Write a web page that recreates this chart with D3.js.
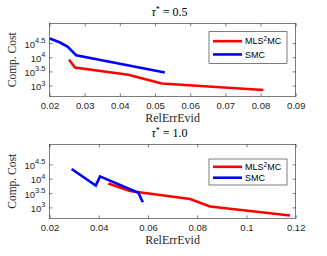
<!DOCTYPE html>
<html><head><meta charset="utf-8">
<script src="https://cdn.jsdelivr.net/npm/d3@7"></script>
<style>body{margin:0;background:#fff;} svg{display:block;}</style>
</head><body>
<svg id="c" width="327" height="256"></svg>
<script>
// Panel 1: tau* = 0.5
const p1_smc_x = [0.0201, 0.0230, 0.0251, 0.0276, 0.0528];
const p1_smc_y = [45709, 33113, 23988, 11749, 2884];
const p1_mls_x = [0.02555, 0.02725, 0.0424, 0.0519, 0.0808];
const p1_mls_y = [8128, 4365, 2399, 1175, 692];
const p1_xticks = [0.02, 0.03, 0.04, 0.05, 0.06, 0.07, 0.08, 0.09];
// Panel 2: tau* = 1.0
const p2_smc_x = [0.0290, 0.0388, 0.0405, 0.0561, 0.0579];
const p2_smc_y = [21878, 5754, 12023, 3236, 1514];
const p2_mls_x = [0.0439, 0.0527, 0.0771, 0.0852, 0.1177];
const p2_mls_y = [6761, 3715, 1950, 1072, 525];
const p2_xticks = [0.02, 0.04, 0.06, 0.08, 0.1, 0.12];
const yTickExps = ["3", "3.5", "4", "4.5"];
const seriesNames = ["MLS²MC", "SMC"];
const colors = ["#ff0000", "#0000ff"];

const svg = d3.select("#c");
const axisColor = "#262626";
const sans = "'Liberation Sans', Arial, sans-serif";
const serif = "'Liberation Serif', 'Times New Roman', serif";

function panel(cfg) {
  const {left, right, top, bottom, xdom, xticks, tau, mls, smc, leg} = cfg;
  const x = d3.scaleLinear().domain(xdom).range([left, right]);
  const y = d3.scaleLog().domain([Math.pow(10, 2.62), Math.pow(10, 5.2)]).range([bottom, top]);
  const g = svg.append("g");
  const yt = yTickExps.map(e => Math.pow(10, +e));

  const ax = g.append("g").attr("transform", `translate(0,${bottom})`)
    .call(d3.axisBottom(x).tickValues(xticks).tickSize(-3).tickPadding(6).tickFormat(d => String(+d.toFixed(2))));
  const axT = g.append("g").attr("transform", `translate(0,${top})`)
    .call(d3.axisTop(x).tickValues(xticks).tickSize(-3).tickFormat(""));
  const ayL = g.append("g").attr("transform", `translate(${left},0)`)
    .call(d3.axisLeft(y).tickValues(yt).tickSize(-3).tickFormat(""));
  const ayR = g.append("g").attr("transform", `translate(${right},0)`)
    .call(d3.axisRight(y).tickValues(yt).tickSize(-3).tickFormat(""));
  [ax, axT, ayL, ayR].forEach(a => {
    a.select(".domain").remove();
    a.selectAll("line").attr("stroke", axisColor).attr("stroke-width", 0.6);
    a.selectAll("text").attr("fill", axisColor).attr("font-family", sans).attr("font-size", 9.5);
  });
  g.append("rect").attr("x", left).attr("y", top).attr("width", right - left).attr("height", bottom - top)
    .attr("fill", "none").attr("stroke", axisColor).attr("stroke-width", 0.6);

  yTickExps.forEach(e => {
    const t = g.append("text").attr("x", left - 4).attr("y", y(Math.pow(10, +e)) + 4.5)
      .attr("text-anchor", "end").attr("font-family", sans).attr("font-size", 9.5).attr("fill", axisColor);
    t.append("tspan").text("10");
    t.append("tspan").attr("dy", -4.5).attr("font-size", 7.5).text(e);
  });

  const line = d3.line().x(d => x(d[0])).y(d => y(d[1]));
  [mls, smc].forEach((s, i) => {
    g.append("path").datum(d3.zip(s[0], s[1])).attr("d", line)
      .attr("fill", "none").attr("stroke", colors[i]).attr("stroke-width", 2.6).attr("stroke-linejoin", "miter");
  });

  const tt = g.append("text").attr("x", (left + right) / 2 - 3).attr("y", top - 7)
    .attr("text-anchor", "middle").attr("font-family", serif).attr("font-size", 12).attr("fill", "#000");
  tt.append("tspan").attr("font-style", "italic").text("τ");
  tt.append("tspan").attr("dy", -4.5).attr("font-size", 8).text("*");
  tt.append("tspan").attr("dy", 4.5).text(" = " + tau);

  g.append("text").attr("x", (left + right) / 2).attr("y", bottom + 25.5)
    .attr("text-anchor", "middle").attr("font-family", serif).attr("font-size", 12).attr("fill", axisColor).text("RelErrEvid");
  g.append("text").attr("transform", `translate(16,${(top + bottom) / 2}) rotate(-90)`)
    .attr("text-anchor", "middle").attr("font-family", serif).attr("font-size", 11.5).attr("fill", axisColor).text("Comp. Cost");

  g.append("rect").attr("x", leg.x).attr("y", leg.y).attr("width", leg.w).attr("height", leg.h)
    .attr("fill", "#fff").attr("stroke", axisColor).attr("stroke-width", 0.6);
  seriesNames.forEach((n, i) => {
    const yy = leg.y + leg.h * (i === 0 ? 0.3 : 0.72);
    g.append("line").attr("x1", leg.x + 4).attr("x2", leg.x + 33).attr("y1", yy).attr("y2", yy)
      .attr("stroke", colors[i]).attr("stroke-width", 2.6);
    const t = g.append("text").attr("x", leg.x + 36).attr("y", yy + 3.3).attr("font-family", sans)
      .attr("font-size", 9).attr("fill", "#000");
    if (i === 0) {
      t.append("tspan").text("MLS");
      t.append("tspan").attr("dy", -3.5).attr("font-size", 6.5).text("2");
      t.append("tspan").attr("dy", 3.5).text("MC");
    } else t.text(n);
  });
}

panel({left: 49.5, right: 295.7, top: 23.3, bottom: 96.3, xdom: [0.02, 0.09], xticks: p1_xticks, tau: "0.5",
  mls: [p1_mls_x, p1_mls_y], smc: [p1_smc_x, p1_smc_y], leg: {x: 209, y: 31.7, w: 78, h: 31.6}});
panel({left: 49.5, right: 295.7, top: 144.3, bottom: 218.3, xdom: [0.02, 0.12], xticks: p2_xticks, tau: "1.0",
  mls: [p2_mls_x, p2_mls_y], smc: [p2_smc_x, p2_smc_y], leg: {x: 209, y: 159, w: 78, h: 26}});
</script>
</body></html>
